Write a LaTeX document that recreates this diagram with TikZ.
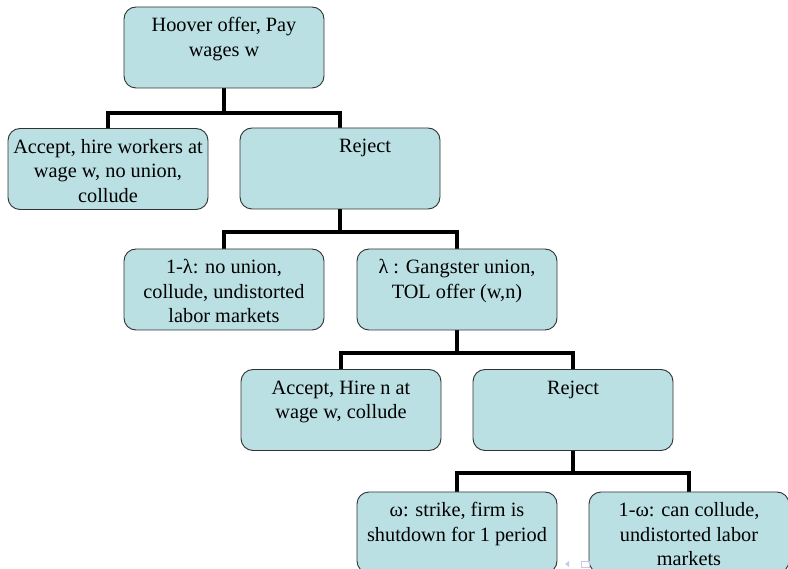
\documentclass[tikz,border=0pt]{standalone}
\usepackage{fontspec}
\setmainfont{Liberation Serif}
\usetikzlibrary{backgrounds}
\definecolor{boxfill}{RGB}{186,224,227}
\definecolor{boxline}{RGB}{50,50,50}
\definecolor{navcol}{RGB}{200,200,235}
\newcommand\btext[1]{\parbox[c][81pt][t]{198pt}{\fontsize{20.3pt}{24.5pt}\selectfont\centering\rule{0pt}{25pt}#1}}
\tikzset{
  tbox/.style={draw=boxline, line width=0.9pt, fill=boxfill, rounded corners=12pt,
    inner sep=0pt, minimum width=200pt, minimum height=81pt},
  conn/.style={line width=3.2pt, draw=black}
}
\begin{document}
\begin{tikzpicture}[x=1pt,y=-1pt]
\useasboundingbox (0,0) rectangle (788,569);
\clip (0,0) rectangle (788,569);
% boxes
\node[tbox] (hoover) at (224,47.5) {\btext{Hoover offer, Pay\\ wages w}};
\node[tbox] (acc1) at (108,169) {\btext{Accept, hire workers at\\ wage w, no union,\\ collude}};
\node[tbox] (rej1) at (340,168.5) {\btext{\hspace*{50pt}Reject}};
\node[tbox] (lam1) at (224,289.5) {\btext{1-λ: no union,\\ collude, undistorted\\ labor markets}};
\node[tbox] (lam) at (457,289.5) {\btext{λ : Gangster union,\\ TOL offer (w,n)}};
\node[tbox] (acc2) at (341,410) {\btext{Accept, Hire n at\\ wage w, collude}};
\node[tbox] (rej2) at (573,410) {\btext{Reject}};
\node[tbox] (omg) at (457,532.5) {\btext{ω: strike, firm is\\ shutdown for 1 period}};
\node[tbox] (omg1) at (689,532.5) {\btext{1-ω: can collude,\\ undistorted labor\\ markets}};
% junctions
\coordinate (j1) at (224,113);
\coordinate (j2) at (340,232);
\coordinate (j3) at (457,353);
\coordinate (j4) at (573,473);
\begin{scope}[on background layer]
\fill[white] (0,0) rectangle (788,569);
\draw[conn] (hoover.south) -- (j1);
\draw[conn] (acc1.north) |- (j1) -| (rej1.north);
\draw[conn] (rej1.south) -- (j2);
\draw[conn] (lam1.north) |- (j2) -| (lam.north);
\draw[conn] (lam.south) -- (j3);
\draw[conn] (acc2.north) |- (j3) -| (rej2.north);
\draw[conn] (rej2.south) -- (j4);
\draw[conn] (omg.north) |- (j4) -| (omg1.north);
\end{scope}
% faint navigation symbols
\fill[navcol] (565,564) -- (569,561) -- (569,567) -- cycle;
\draw[navcol, line width=0.8pt] (581,561) rectangle (589,567);
\end{tikzpicture}
\end{document}
